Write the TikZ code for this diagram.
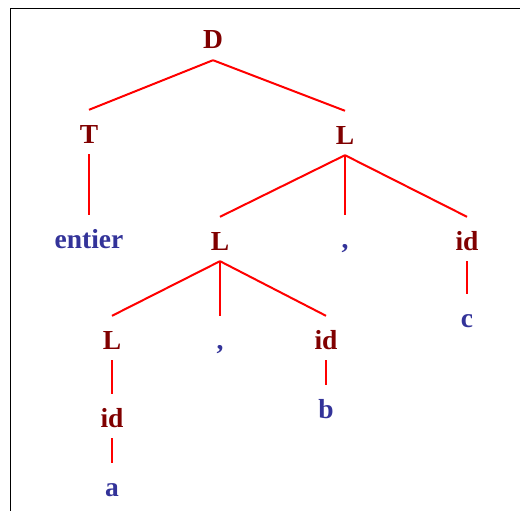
\documentclass[tikz,border=0pt]{standalone}
\usepackage{fontspec}
\setmainfont{Liberation Serif}
\definecolor{nt}{HTML}{800000}
\definecolor{tm}{HTML}{333399}
\begin{document}
\begin{tikzpicture}[x=1pt,y=-1pt,
  sym/.style={font=\fontsize{27.5}{30}\selectfont\bfseries, inner sep=0pt, text height=33pt, text depth=11pt, anchor=base},
  nterm/.style={sym, text=nt},
  term/.style={sym, text=tm},
  edge/.style={draw=red, line width=2pt}]
\useasboundingbox (0,0) rectangle (520,511);
\draw[line width=1pt] (10.5,511) -- (10.5,8.5) -- (520,8.5);
% nodes
\node[nterm] (D)  at (213,49) {D};
\node[nterm] (T)  at (89,143) {T};
\node[nterm] (L1) at (345,144) {L};
\node[term]  (en) at (89,248) {entier};
\node[nterm] (L2) at (220,250) {L};
\node[term]  (c1) at (345,248) {,};
\node[nterm] (id1) at (467,250) {id};
\node[term]  (cc) at (467,327) {c};
\node[nterm] (L3) at (112,349) {L};
\node[term]  (c2) at (220,349) {,};
\node[nterm] (id2) at (326,349) {id};
\node[term]  (bb) at (326,418) {b};
\node[nterm] (id3) at (112,427) {id};
\node[term]  (aa) at (112,496) {a};
% edges
\draw[edge] (D.south) -- (T.north);
\draw[edge] (D.south) -- (L1.north);
\draw[edge] (T.south) -- (en.north);
\draw[edge] (L1.south) -- (L2.north);
\draw[edge] (L1.south) -- (c1.north);
\draw[edge] (L1.south) -- (id1.north);
\draw[edge] (id1.south) -- (cc.north);
\draw[edge] (L2.south) -- (L3.north);
\draw[edge] (L2.south) -- (c2.north);
\draw[edge] (L2.south) -- (id2.north);
\draw[edge] (id2.south) -- (bb.north);
\draw[edge] (L3.south) -- (id3.north);
\draw[edge] (id3.south) -- (aa.north);
\end{tikzpicture}
\end{document}
